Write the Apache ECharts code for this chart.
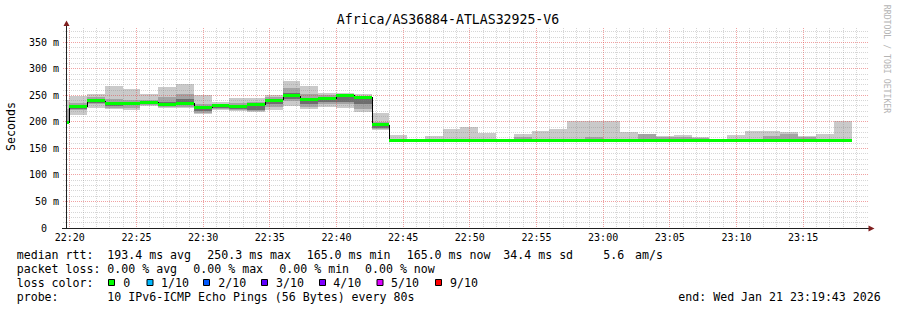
<!DOCTYPE html>
<html><head><meta charset="utf-8">
<script src="https://cdn.jsdelivr.net/npm/echarts@6/dist/echarts.min.js"></script>
<style>html,body{margin:0;padding:0;background:#fff;}#c{width:897px;height:310px;}</style>
</head><body><div id="c"></div>
<script>
// ---------- data ----------
const chartTitle = 'Africa/AS36884-ATLAS32925-V6';
const graphStart = '22:19:43';
const graphEnd = '23:19:43';
const firstStepStart = '22:19:58';   // start of step 1 (step 0 is the partial step at graph start)
const stepSeconds = 80;
const xTickLabels = ['22:20','22:25','22:30','22:35','22:40','22:45','22:50','22:55','23:00','23:05','23:10','23:15'];
const yTickValues = [0,50,100,150,200,250,300,350];
const yMax = 377;

const median   = [198,229,240,234,235,237,232,235,227,230,229.5,232,241,249.5,242,244,250.3,246,195,
  165,165,165,165,165,165,165,165,165,165,165,165,165,165,165,165,165,165,165,165,165,165,165,165,165,165];
const pingMax  = [241,248,252,267,262,252,265,272,251,238,245,245,251,277,267,255,254,253,216,
  176,166,174,186,191,180,166,178,183,187,201,201,202,181,178,173,176,172,166,176,183,183,181,174,178,202];
const pingMin  = [196,213,227,224,223,230,226,226,214,223,220,218,223,230,224,229,227,218,185,
  165,165,165,165,165,165,165,165,165,165,165,165,165,165,165,165,165,165,165,165,165,165,165,165,165,165];
const band2Lo  = [197,222,233,226,227,232,228,228,217,225,222,220,228,240,229,234,233,224,186,
  165,165,165,165,165,165,165,165,165,165,165,165,165,165,165,165,165,165,165,165,165,165,165,165,165,165];
const band2Hi  = [225,236,246,243,241,242,246,252,234,234,236,238,247,264,252,250,252,249,200,
  167,165,166,167,167,167,165,171,167,167,167,172,168,167,177,172,171,170,165,167,168,174,177,171,167,168];
const band3Lo  = [197,225,236,230,231,234,230,231,220,227,224,222,233,244,233,237,238,233,188,
  165,165,165,165,165,165,165,165,165,165,165,165,165,165,165,165,165,165,165,165,165,165,165,165,165,165];
const band3Hi  = [199,231,242,238,238,239,238,244,230,232,231,234,244,255,245,246,251,245,196,
  165,165,165,165,165,165,165,165,165,165,165,165,165,165,165,165,165,165,165,165,165,165,165,165,165,165];
const packetLoss = [0,0,0,0,0,0,0,0,0,0,0,0,0,0,0,0,0,0,0,0,0,0,0,0,0,0,0,0,0,0,0,0,0,0,0,0,0,0,0,0,0,0,0,0,0];

const lossLabels = ['0','1/10','2/10','3/10','4/10','5/10','9/10'];
const lossColors = ['#00ff00','#00b8ff','#0059ff','#5e00ff','#7e00ff','#dd00ff','#ff0000'];
const lossIndex  = {0:0,1:1,2:2,3:3,4:4,5:5,9:6};

const rttStats  = ['193.4 ms avg','250.3 ms max','165.0 ms min','165.0 ms now','34.4 ms sd','5.6','am/s'];
const lossStats = ['0.00 % avg','0.00 % max','0.00 % min','0.00 % now'];
const probeText = '10 IPv6-ICMP Echo Pings (56 Bytes) every 80s';
const endText   = 'end: Wed Jan 21 23:19:43 2026';

// ---------- helpers ----------
const ORIGIN = 22*3600 + 20*60;
function toSec(t){ const p=t.split(':').map(Number); return p[0]*3600+p[1]*60+(p[2]||0)-ORIGIN; }
const xMin = toSec(graphStart), xMax = toSec(graphEnd), s1 = toSec(firstStepStart);
const xTickSec = xTickLabels.map(toSec);

const smokeData = median.map((m,i)=>{
  const start = i===0 ? xMin : s1 + (i-1)*stepSeconds;
  const end = s1 + i*stepSeconds;
  return [start,end,pingMin[i],band2Lo[i],band3Lo[i],m,band3Hi[i],band2Hi[i],pingMax[i]];
});
const medianData = median.map((m,i)=>{
  const start = i===0 ? xMin : s1 + (i-1)*stepSeconds;
  const end = s1 + i*stepSeconds;
  return [start,end,m,i===0?m:median[i-1],packetLoss[i]];
});
const gridData = [];
for (let t=0; t<xMax; t+=60) gridData.push([0,t,t%300===0?1:0]);
for (let v=10; v<yMax; v+=10) gridData.push([1,v,v%50===0?1:0]);

const MONO = 'DejaVu Sans Mono';

function renderSmoke(params, api){
  const s=api.value(0), e=api.value(1);
  const x0=Math.round(api.coord([s,0])[0]), x1=Math.round(api.coord([e,0])[0]);
  const Y=v=>api.coord([s,v])[1];
  const band=(lo,hi,fill)=>{
    const yt=Math.round(Y(hi)), yb=Math.round(Y(lo));
    return {type:'rect',shape:{x:x0,y:yt,width:x1-x0,height:Math.max(yb-yt,0)},style:{fill:fill}};
  };
  return {type:'group',children:[
    band(api.value(2),api.value(8),'#cacaca'),
    band(api.value(3),api.value(7),'#a4a4a4'),
    band(api.value(4),api.value(6),'#6e6e6e')
  ]};
}
function renderMedian(params, api){
  const s=api.value(0), e=api.value(1), m=api.value(2), pm=api.value(3), loss=api.value(4);
  const x0=Math.round(api.coord([s,0])[0]), x1=Math.round(api.coord([e,0])[0]);
  const ym=api.coord([s,m])[1];
  const ch=[];
  if (pm!==m){
    const yp=api.coord([s,pm])[1];
    ch.push({type:'line',shape:{x1:x0+0.5,y1:Math.round(yp),x2:x0+0.5,y2:Math.round(ym)},style:{stroke:'#000',lineWidth:1}});
  }
  ch.push({type:'rect',shape:{x:x0,y:Math.round(ym-1.5),width:x1-x0,height:3},style:{fill:lossColors[lossIndex[loss]]}});
  return {type:'group',children:ch};
}
function renderGrid(params, api){
  const o=api.value(0), v=api.value(1), major=api.value(2);
  const stroke = major ? 'rgba(225,70,70,0.5)' : 'rgba(130,130,130,0.33)';
  if (o===0){
    const x=Math.round(api.coord([v,0])[0]-0.5)+0.5;
    const yt=api.coord([v,yMax])[1], yb=api.coord([v,0])[1];
    return {type:'line',shape:{x1:x,y1:yt,x2:x,y2:yb},style:{stroke:stroke,lineWidth:1,lineDash:[1,1]}};
  } else {
    const y=Math.round(api.coord([xMin,v])[1]-0.5)+0.5;
    const xl=api.coord([xMin,v])[0], xr=api.coord([xMax,v])[0];
    return {type:'line',shape:{x1:xl-3,y1:y,x2:xr+2,y2:y},style:{stroke:stroke,lineWidth:1,lineDash:[1,1]}};
  }
}

// ---------- graphics (text & decorations) ----------
const txt=(text,x,y,extra)=>Object.assign({type:'text',x:x,y:y,silent:true,
  style:Object.assign({text:text,fontFamily:MONO,fontSize:11.6,fill:'#000',verticalAlign:'middle',align:'left'},extra||{})});
const graphics=[];
graphics.push(txt(chartTitle,448,19.5,{fontSize:13.2,align:'center'}));
graphics.push(Object.assign(txt('Seconds',11,126.5,{align:'center'}),{rotation:Math.PI/2}));
graphics.push(Object.assign(txt('RRDTOOL / TOBI OETIKER',886.5,59,{align:'center',fontSize:8.2,fill:'#b4b4b4'}),{rotation:-Math.PI/2}));
// axis extensions and arrows
graphics.push({type:'line',silent:true,z:20,shape:{x1:66.5,y1:24,x2:66.5,y2:29},style:{stroke:'#202020',lineWidth:1}});
graphics.push({type:'line',silent:true,z:20,shape:{x1:62,y1:228.5,x2:870,y2:228.5},style:{stroke:'#202020',lineWidth:1}});
graphics.push({type:'polygon',silent:true,z:21,shape:{points:[[63.5,26],[66.5,20.5],[69.5,26]]},style:{fill:'#801f1f'}});
graphics.push({type:'polygon',silent:true,z:21,shape:{points:[[868.5,225.5],[874.5,228.5],[868.5,231.5]]},style:{fill:'#801f1f'}});
// legend lines
const rttX=[107.3,207.3,306.7,406.7,503.3,603.3,635];
const lossX=[107.3,193.3,279.3,365];
const boxX=[108,146.5,203,261,319,376.5,435];
const lossLabelX=[123.3,161,218.3,276,333.3,391,450];
graphics.push(txt('median rtt:',16.7,255));
rttStats.forEach((s,i)=>graphics.push(txt(s,rttX[i],255)));
graphics.push(txt('packet loss:',16.7,268.5));
lossStats.forEach((s,i)=>graphics.push(txt(s,lossX[i],268.5)));
graphics.push(txt('loss color:',16.7,282.5));
lossLabels.forEach((s,i)=>{
  graphics.push({type:'rect',silent:true,shape:{x:boxX[i]+0.5,y:279.5,width:6,height:6},style:{fill:lossColors[i],stroke:'#000',lineWidth:1}});
  graphics.push(txt(s,lossLabelX[i],282.5));
});
graphics.push(txt('probe:',16.7,296.5));
graphics.push(txt(probeText,107.3,296.5));
graphics.push(txt(endText,678.3,296.5));

// ---------- chart ----------
const chart=echarts.init(document.getElementById('c'),null,{renderer:'svg',width:897,height:310});
chart.setOption({
  animation:false,
  backgroundColor:'#ffffff',
  grid:{left:66,top:28,width:800,height:200,containLabel:false,outerBoundsMode:'none'},
  xAxis:{type:'value',min:xMin,max:xMax,z:10,
    axisLine:{show:true,onZero:false,lineStyle:{color:'#202020',width:1}},
    axisTick:{show:false},splitLine:{show:false},
    axisLabel:{customValues:xTickSec,showMinLabel:true,showMaxLabel:true,hideOverlap:false,
      formatter:v=>{const i=xTickSec.indexOf(v);return i>=0?xTickLabels[i]:'';},
      fontFamily:MONO,fontSize:10,color:'#000',margin:4}},
  yAxis:{type:'value',min:0,max:yMax,z:10,
    axisLine:{show:true,onZero:false,lineStyle:{color:'#202020',width:1}},
    axisTick:{show:false},splitLine:{show:false},
    axisLabel:{customValues:yTickValues,formatter:v=>v===0?'{z|0}':(v+' m'),
      rich:{z:{fontFamily:MONO,fontSize:10,color:'#000',padding:[0,12,0,0]}},
      fontFamily:MONO,fontSize:10,color:'#000',margin:7}},
  graphic:graphics,
  series:[
    {type:'custom',name:'smoke',z:2,silent:true,renderItem:renderSmoke,data:smokeData,encode:{x:[0,1],y:[2,8]}},
    {type:'custom',name:'grid',z:3,silent:true,renderItem:renderGrid,data:gridData,encode:{x:-1,y:-1}},
    {type:'custom',name:'median',z:4,silent:true,renderItem:renderMedian,data:medianData,encode:{x:[0,1],y:2}}
  ]
});
</script></body></html>
